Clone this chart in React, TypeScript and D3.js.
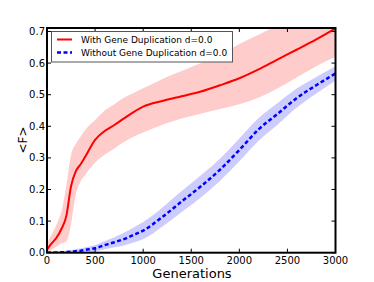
import React, { useEffect, useRef } from "react";
import * as d3 from "d3";

// generations sampled along the x axis
const generations = [0, 50, 100, 150, 200, 250, 300, 350, 400, 500, 600, 700, 800, 900, 1000, 1200, 1400, 1600, 1800, 2000, 2200, 2400, 2600, 2800, 3000];

// With Gene Duplication d=0.0
const withMean = [0.01, 0.03, 0.048, 0.075, 0.115, 0.21, 0.258, 0.28, 0.305, 0.357, 0.385, 0.404, 0.425, 0.445, 0.462, 0.48, 0.495, 0.51, 0.53, 0.552, 0.58, 0.612, 0.643, 0.675, 0.71];
const withUpper = [0.03, 0.058, 0.09, 0.13, 0.21, 0.31, 0.345, 0.368, 0.39, 0.42, 0.45, 0.47, 0.49, 0.505, 0.52, 0.55, 0.575, 0.6, 0.624, 0.66, 0.69, 0.72, 0.75, 0.78, 0.81];
const withLower = [0.0, 0.01, 0.02, 0.03, 0.035, 0.09, 0.185, 0.225, 0.248, 0.285, 0.31, 0.33, 0.35, 0.367, 0.38, 0.405, 0.425, 0.44, 0.455, 0.47, 0.49, 0.52, 0.555, 0.59, 0.62];

// Without Gene Duplication d=0.0
const withoutMean = [0.0, 0.0005, 0.001, 0.0015, 0.002, 0.003, 0.005, 0.006, 0.009, 0.014, 0.024, 0.033, 0.043, 0.056, 0.07, 0.113, 0.162, 0.21, 0.263, 0.325, 0.39, 0.44, 0.49, 0.53, 0.567];
const withoutUpper = [0.002, 0.003, 0.004, 0.005, 0.006, 0.008, 0.011, 0.013, 0.017, 0.024, 0.037, 0.049, 0.063, 0.08, 0.097, 0.143, 0.195, 0.245, 0.298, 0.361, 0.426, 0.474, 0.52, 0.556, 0.59];
const withoutLower = [0.0, 0.0, 0.0, 0.0, 0.0, 0.0, 0.0, 0.0, 0.001, 0.004, 0.011, 0.017, 0.023, 0.032, 0.043, 0.083, 0.129, 0.175, 0.228, 0.289, 0.354, 0.406, 0.46, 0.504, 0.545];

const xTicks = [0, 500, 1000, 1500, 2000, 2500, 3000];
const yTicks = [0.0, 0.1, 0.2, 0.3, 0.4, 0.5, 0.6, 0.7];
const legendLabels = ["With Gene Duplication d=0.0", "Without Gene Duplication d=0.0"];

export default function App() {
  const refElement = useRef<SVGSVGElement>(null);

  useEffect(() => {
    const el = refElement.current;
    if (!el) return;
    const svg = d3.select(el);
    svg.selectAll("*").remove();

    const left = 47, right = 335.5, top = 28, bottom = 252.7;
    const font = "DejaVu Sans, sans-serif";

    const x = d3.scaleLinear().domain([0, 3000]).range([left, right]);
    const y = d3.scaleLinear().domain([0, 0.711]).range([bottom, top]);

    svg.append("defs").append("clipPath").attr("id", "plotclip")
      .append("rect").attr("x", left).attr("y", top)
      .attr("width", right - left).attr("height", bottom - top);

    const plot = svg.append("g").attr("clip-path", "url(#plotclip)");

    const area = (up: number[], lo: number[]) =>
      d3.area<number>()
        .x(d => x(d))
        .y0((d, i) => y(lo[i]))
        .y1((d, i) => y(up[i]))
        .curve(d3.curveMonotoneX)(generations);

    const line = (vals: number[]) =>
      d3.line<number>()
        .x(d => x(d))
        .y((d, i) => y(vals[i]))
        .curve(d3.curveMonotoneX)(generations);

    plot.append("path").attr("d", area(withUpper, withLower)).attr("fill", "#ff0000").attr("fill-opacity", 0.2);
    plot.append("path").attr("d", area(withoutUpper, withoutLower)).attr("fill", "#0000ff").attr("fill-opacity", 0.2);

    plot.append("path").attr("d", line(withMean)).attr("fill", "none")
      .attr("stroke", "#ff0000").attr("stroke-width", 2);
    plot.append("path").attr("d", line(withoutMean)).attr("fill", "none")
      .attr("stroke", "#0000ff").attr("stroke-width", 2.5).attr("stroke-dasharray", "4,2.5");

    // axes frame
    svg.append("rect").attr("x", left).attr("y", top)
      .attr("width", right - left).attr("height", bottom - top)
      .attr("fill", "none").attr("stroke", "#000").attr("stroke-width", 2);

    // inward ticks on all four sides
    const ticks = svg.append("g").attr("stroke", "#000").attr("stroke-width", 1);
    xTicks.forEach(t => {
      ticks.append("line").attr("x1", x(t)).attr("x2", x(t)).attr("y1", bottom).attr("y2", bottom - 4);
      ticks.append("line").attr("x1", x(t)).attr("x2", x(t)).attr("y1", top).attr("y2", top + 4);
    });
    yTicks.forEach(t => {
      ticks.append("line").attr("x1", left).attr("x2", left + 4).attr("y1", y(t)).attr("y2", y(t));
      ticks.append("line").attr("x1", right).attr("x2", right - 4).attr("y1", y(t)).attr("y2", y(t));
    });

    svg.append("g").selectAll("text").data(xTicks).join("text")
      .attr("x", d => x(d)).attr("y", 263.5)
      .attr("text-anchor", "middle").attr("font-family", font).attr("font-size", 10)
      .text(d => String(d));

    svg.append("g").selectAll("text").data(yTicks).join("text")
      .attr("x", 45).attr("y", d => y(d) + 3.6)
      .attr("text-anchor", "end").attr("font-family", font).attr("font-size", 10)
      .text(d => d.toFixed(1));

    svg.append("text").attr("x", 192).attr("y", 277.5)
      .attr("text-anchor", "middle").attr("font-family", font).attr("font-size", 13)
      .text("Generations");

    svg.append("text").attr("transform", "translate(27,140) rotate(-90)")
      .attr("text-anchor", "middle").attr("font-family", font).attr("font-size", 12)
      .text("<F>");

    // legend
    const lg = svg.append("g");
    lg.append("rect").attr("x", 51.5).attr("y", 31.5).attr("width", 181).attr("height", 30.5)
      .attr("fill", "#fff").attr("stroke", "#555").attr("stroke-width", 1);
    lg.append("line").attr("x1", 57).attr("x2", 72).attr("y1", 39.5).attr("y2", 39.5)
      .attr("stroke", "#ff0000").attr("stroke-width", 2);
    lg.append("line").attr("x1", 57).attr("x2", 72).attr("y1", 52.5).attr("y2", 52.5)
      .attr("stroke", "#0000ff").attr("stroke-width", 2.5).attr("stroke-dasharray", "4,2.5");
    lg.selectAll("text").data(legendLabels).join("text")
      .attr("x", 81).attr("y", (d, i) => 42.8 + i * 13)
      .attr("font-family", font).attr("font-size", 9)
      .text(d => d);
  });

  return (
    <svg ref={refElement} width={374} height={282}
      style={{ position: "absolute", left: 0, top: 0, background: "#fff" }} />
  );
}
